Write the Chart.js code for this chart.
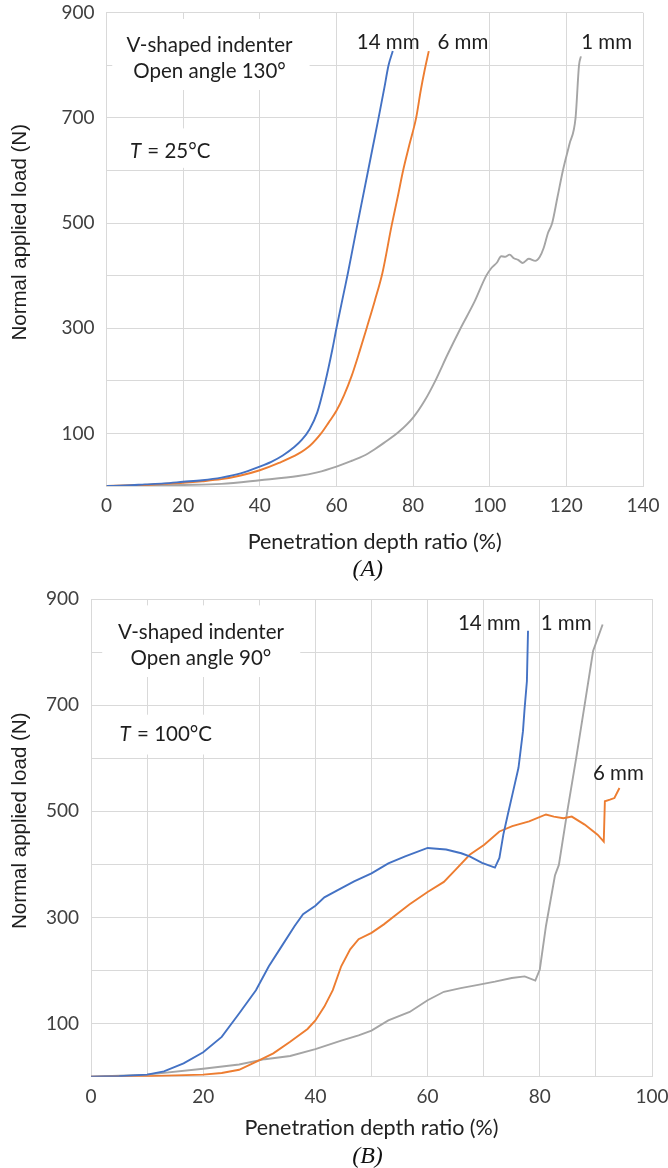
<!DOCTYPE html>
<html>
<head>
<meta charset="utf-8">
<script src="https://cdn.jsdelivr.net/npm/chart.js@4/dist/chart.umd.min.js"></script>
<style>
  html, body { margin: 0; padding: 0; background: #fff; }
  #wrapA { position: absolute; left: 0; top: 0; width: 668px; height: 585px; }
  #wrapB { position: absolute; left: 0; top: 585px; width: 668px; height: 583px; }
</style>
</head>
<body>
<div id="wrapA"><canvas id="chartA"></canvas></div>
<div id="wrapB"><canvas id="chartB"></canvas></div>
<script>
// (A) V-shaped indenter, open angle 130 deg, T = 25 C
const a14x = [0, 5, 10, 15, 20, 25, 30, 35, 40, 43, 46, 49, 51, 53, 55, 57, 59, 60, 62, 63, 65, 66.5, 68, 69.5, 71, 72.5, 73.6, 74.7];
const a14y = [0, 1, 3, 5, 8, 11, 16, 24, 37, 46, 58, 74, 88, 108, 140, 195, 262, 300, 370, 405, 480, 535, 590, 645, 700, 757, 800, 827];
const a6x = [0, 5, 10, 15, 20, 25, 30, 35, 40, 45, 50, 53, 56, 58, 60, 62, 64, 66, 68, 70, 72, 74.4, 76, 77.4, 79, 80.8, 82, 83, 84.1];
const a6y = [0, 1, 2, 4, 6, 9, 13, 20, 30, 44, 61, 76, 100, 121, 143, 173, 210, 255, 303, 352, 405, 495, 550, 600, 648, 700, 752, 790, 827];
const a1x = [0, 10, 20, 30, 40, 50, 55, 60, 64, 67, 70, 72.4, 76.3, 80, 83, 85.8, 89, 92.4, 96, 99.1, 100.5, 101.9, 103, 104, 105.2, 106.3, 107.4, 108.6, 110.2, 111.9, 113, 114.1, 115.2, 116.3, 117.7, 119.1, 120.8, 122.4, 123.3, 123.8];
const a1y = [0, 1, 2, 4, 11, 19, 26, 37, 48, 57, 70, 82, 103, 130, 162, 200, 250, 300, 350, 400, 415, 425, 437, 436, 440, 433, 430, 424, 432, 428, 435, 453, 481, 500, 550, 600, 650, 700, 800, 817];

// (B) V-shaped indenter, open angle 90 deg, T = 100 C
const b14x = [0, 5, 10, 13, 16.5, 20, 23.3, 26.4, 29.4, 31.7, 34, 36.3, 37.8, 40, 41.6, 43.9, 46.9, 50, 53, 56, 60, 63.3, 66, 67.5, 69.7, 72, 72.8, 73.5, 74.3, 75.1, 76.2, 77, 77.3, 77.7, 77.9];
const b14y = [0, 1, 4, 10, 25, 46, 75, 119, 163, 208, 246, 284, 306, 322, 338, 351, 368, 383, 402, 415, 431, 428, 421, 415, 403, 394, 412, 456, 494, 531, 582, 651, 695, 745, 840];
const b6x = [0, 10, 20, 23.3, 26.4, 29.4, 32.5, 35.5, 38.6, 40, 41.6, 43.1, 44.6, 46.2, 47.7, 50, 52.2, 54.5, 56.8, 60, 62.9, 65, 67.5, 70.1, 72.8, 75.1, 78.1, 81.1, 82.5, 84.2, 85.7, 88, 90.3, 91.4, 91.6, 92.5, 93.3, 94.2];
const b6y = [0, 1, 4, 7, 13, 28, 44, 66, 90, 106, 132, 163, 208, 240, 259, 271, 287, 306, 325, 348, 367, 390, 418, 437, 462, 472, 481, 494, 490, 487, 490, 475, 456, 443, 519, 522, 525, 544];
const b1x = [0, 10, 20, 26.4, 31, 35.5, 40, 44.6, 47.7, 50, 53, 56.8, 60, 62.9, 65.9, 69, 72, 75, 77.3, 79.2, 80, 81.1, 82.7, 83.4, 84.9, 86.5, 88, 89.5, 91.2];
const b1y = [0, 4, 15, 23, 33, 39, 52, 68, 78, 87, 106, 122, 144, 160, 167, 173, 179, 186, 189, 181, 202, 284, 379, 399, 500, 601, 701, 802, 852];

// tick labels
const yLabels = [100, 300, 500, 700, 900];
const xLabelsA = [0, 20, 40, 60, 80, 100, 120, 140];
const xLabelsB = [0, 20, 40, 60, 80, 100];

const BLUE = '#4472c4';
const ORANGE = '#ed7d31';
const GRAY = '#a5a5a5';
const GRID = '#d9d9d9';
const FONT = 'Lato, "Open Sans", sans-serif';
const NOTE_SIZE = 20.5;

function pts(xs, ys) {
  return xs.map(function (x, i) { return { x: x, y: ys[i] }; });
}

function series(label, xs, ys, color, smooth) {
  return {
    label: label,
    data: pts(xs, ys),
    borderColor: color,
    backgroundColor: color,
    borderWidth: 1.9,
    pointRadius: 0,
    fill: false,
    tension: 0,
    cubicInterpolationMode: smooth ? 'monotone' : 'default'
  };
}

// white text boxes and text notes inside the plot, placed in data units
const notesPlugin = {
  id: 'notes',
  beforeDatasetsDraw: function (chart, args, opts) {
    const c = chart.ctx;
    const xs = chart.scales.x, ys = chart.scales.y;
    c.save();
    c.fillStyle = '#fff';
    (opts.boxes || []).forEach(function (b) {
      const x0 = xs.getPixelForValue(b[0]), x1 = xs.getPixelForValue(b[1]);
      const y0 = ys.getPixelForValue(b[2]), y1 = ys.getPixelForValue(b[3]);
      c.fillRect(x0, y1, x1 - x0, y0 - y1);
    });
    c.textBaseline = 'middle';
    c.textAlign = 'left';
    (opts.items || []).forEach(function (n) {
      const px = xs.getPixelForValue(n.x);
      const py = ys.getPixelForValue(n.y);
      c.font = NOTE_SIZE + 'px ' + FONT;
      const w = c.measureText(n.text).width;
      let wi = 0;
      if (n.italic) {
        c.font = 'italic ' + NOTE_SIZE + 'px ' + FONT;
        wi = c.measureText(n.italic).width + 1;
      }
      const left = n.align === 'left' ? px : px - (w + wi) / 2;
      c.fillStyle = '#1e1e1e';
      if (n.italic) {
        c.font = 'italic ' + NOTE_SIZE + 'px ' + FONT;
        c.fillText(n.italic, left, py);
      }
      c.font = NOTE_SIZE + 'px ' + FONT;
      c.fillText(n.text, left + wi, py);
    });
    c.restore();
  },
  afterDraw: function (chart, args, opts) {
    if (!opts.caption) return;
    const c = chart.ctx;
    const a = chart.chartArea;
    c.save();
    c.font = 'italic 24px "Liberation Serif", "DejaVu Serif", serif';
    c.fillStyle = '#111';
    c.textAlign = 'center';
    c.textBaseline = 'middle';
    c.fillText(opts.caption, (a.left + a.right) / 2 + opts.captionDx, opts.captionY);
    c.restore();
  }
};

function makeChart(id, cfg) {
  return new Chart(document.getElementById(id), {
    type: 'line',
    data: { datasets: cfg.datasets },
    plugins: [notesPlugin],
    options: {
      responsive: true,
      maintainAspectRatio: false,
      animation: false,
      layout: { padding: cfg.padding },
      plugins: {
        legend: { display: false },
        tooltip: { enabled: false },
        notes: {
          items: cfg.notes,
          boxes: cfg.boxes,
          caption: cfg.caption,
          captionY: cfg.captionY,
          captionDx: cfg.captionDx
        }
      },
      scales: {
        x: {
          type: 'linear',
          min: 0,
          max: cfg.xMax,
          afterBuildTicks: function (s) {
            s.ticks = [];
            for (let v = 0; v <= cfg.xMax; v += cfg.xStep) s.ticks.push({ value: v });
          },
          afterFit: function (s) {
            s.height = cfg.xHeight;
            s.paddingLeft = 0;
            s.paddingRight = 0;
          },
          grid: { color: GRID, lineWidth: 1, drawTicks: false },
          border: { color: GRID },
          ticks: {
            padding: 8.7,
            maxRotation: 0,
            autoSkip: false,
            color: '#404040',
            font: { family: FONT, size: 19 },
            callback: function (v) { return cfg.xLabels.includes(v) ? String(v) : ''; }
          },
          title: {
            display: true,
            text: 'Penetration depth ratio (%)',
            color: '#222',
            font: { family: FONT, size: 21.5 },
            padding: { top: 4, bottom: 0 }
          }
        },
        y: {
          min: 0,
          max: 900,
          afterBuildTicks: function (s) {
            s.ticks = [];
            for (let v = 0; v <= 900; v += 100) s.ticks.push({ value: v });
          },
          afterFit: function (s) {
            s.width = cfg.yWidth;
            s.paddingTop = 0;
            s.paddingBottom = 0;
          },
          grid: { color: GRID, lineWidth: 1, drawTicks: false },
          border: { color: GRID },
          ticks: {
            padding: 12,
            autoSkip: false,
            color: '#404040',
            font: { family: FONT, size: 19 },
            callback: function (v) { return yLabels.includes(v) ? String(v) : ''; }
          },
          title: {
            display: true,
            // leading spaces lift the title a little above the plot centre
            text: '      Normal applied load (N)',
            color: '#1e1e1e',
            font: { family: '"Liberation Sans", Arial, sans-serif', size: 20.5 },
            padding: { top: 8.4, bottom: 0 }
          }
        }
      }
    }
  });
}

makeChart('chartA', {
  datasets: [
    series('14 mm', a14x, a14y, BLUE, true),
    series('6 mm', a6x, a6y, ORANGE, true),
    series('1 mm', a1x, a1y, GRAY, true)
  ],
  xMax: 140,
  xStep: 20,
  xLabels: xLabelsA,
  yWidth: 106.5,
  xHeight: 68.6,
  padding: { left: 0, right: 25, top: 12.7, bottom: 30.4 },
  caption: '(A)',
  captionY: 570,
  captionDx: -7,
  boxes: [[1.5, 53, 753, 888], [3.5, 31, 605, 680]],
  notes: [
    { x: 26.9, y: 838.6, text: 'V-shaped indenter', align: 'center' },
    { x: 26.9, y: 789, text: 'Open angle 130°', align: 'center' },
    { x: 6.1, y: 635.6, italic: 'T', text: ' = 25°C', align: 'left' },
    { x: 73.5, y: 844, text: '14 mm', align: 'center' },
    { x: 93, y: 844, text: '6 mm', align: 'center' },
    { x: 130.5, y: 844, text: '1 mm', align: 'center' }
  ]
});

makeChart('chartB', {
  datasets: [
    series('14 mm', b14x, b14y, BLUE, false),
    series('6 mm', b6x, b6y, ORANGE, false),
    series('1 mm', b1x, b1y, GRAY, false)
  ],
  xMax: 100,
  xStep: 10,
  xLabels: xLabelsB,
  yWidth: 91,
  xHeight: 64.5,
  padding: { left: 0, right: 16, top: 14, bottom: 26.8 },
  caption: '(B)',
  captionY: 571.7,
  captionDx: -4,
  boxes: [[2, 37.3, 753, 888], [3.4, 23.9, 607, 682]],
  notes: [
    { x: 19.6, y: 838, text: 'V-shaped indenter', align: 'center' },
    { x: 19.6, y: 789, text: 'Open angle 90°', align: 'center' },
    { x: 5.1, y: 645.6, italic: 'T', text: ' = 100°C', align: 'left' },
    { x: 71, y: 854.7, text: '14 mm', align: 'center' },
    { x: 84.7, y: 854.7, text: '1 mm', align: 'center' },
    { x: 94, y: 572, text: '6 mm', align: 'center' }
  ]
});
</script>
</body>
</html>
